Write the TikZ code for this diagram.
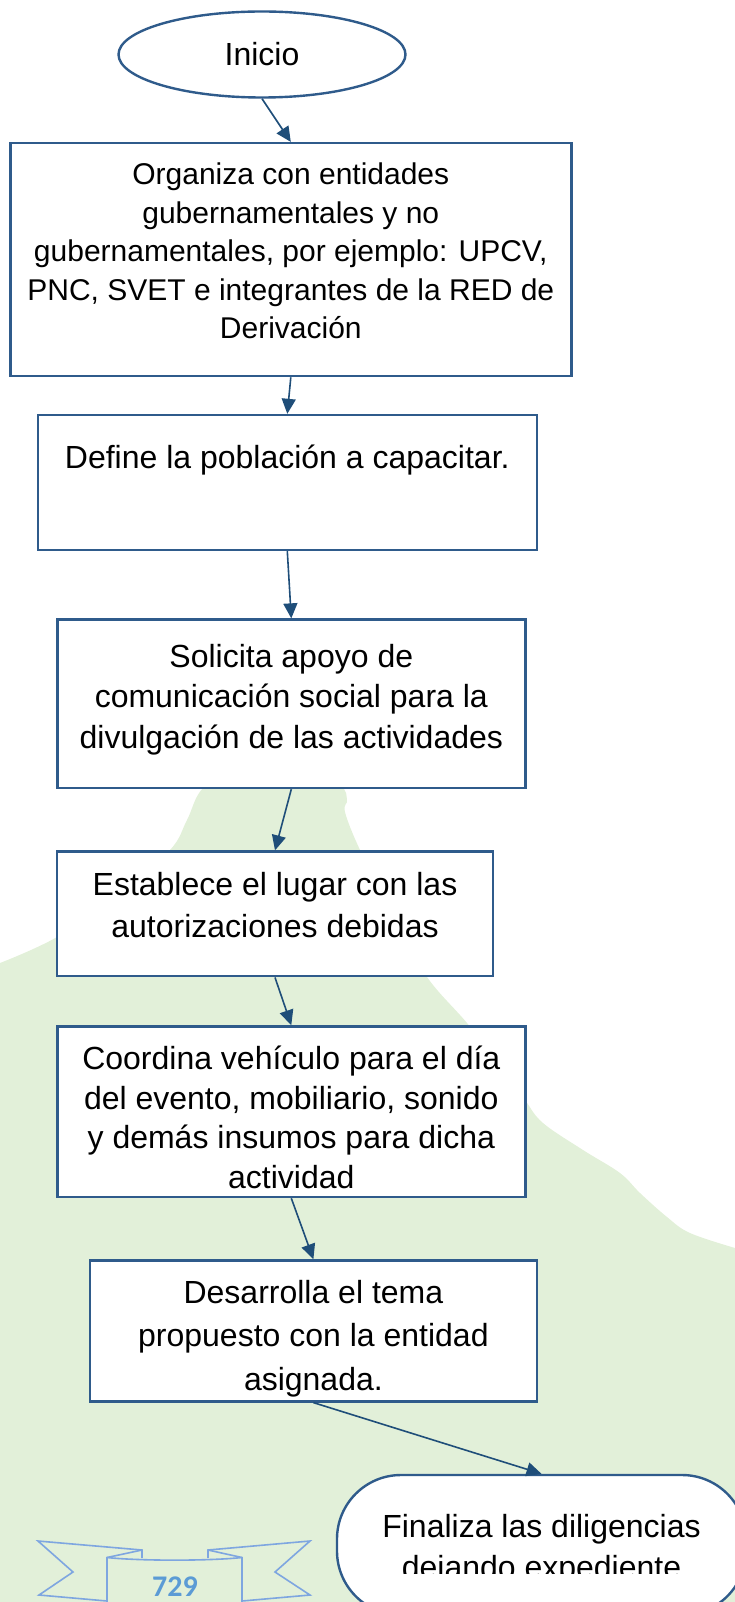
\documentclass[tikz,border=0pt]{standalone}
\usepackage{fontspec}
\setmainfont{Liberation Sans}
\newfontfamily\cintafont{Carlito}
\usepackage{tikz}
\usetikzlibrary{arrows.meta,positioning,shapes.geometric}
\definecolor{cBorde}{HTML}{2F5B8B}
\definecolor{cFlecha}{HTML}{1F4E79}
\definecolor{cFondo}{HTML}{E2F0D9}
\definecolor{cCinta}{HTML}{7EA6E0}
\definecolor{cNum}{HTML}{5B9BD5}
\tikzset{
  paso/.style ={draw=cBorde, line width=2.4pt, fill=white, rectangle},
  term/.style ={draw=cBorde, line width=2.4pt, fill=white, ellipse, inner sep=0pt,
                font=\fontsize{32}{40}\selectfont},
  fin/.style  ={draw=cBorde, line width=2.4pt, fill=white, rectangle, rounded corners=64pt},
  txt/.style  ={inner sep=0pt, outer sep=0pt, align=center,
                font=\fontsize{32}{40}\selectfont, execute at begin node=\strut},
  flecha/.style={-{Triangle[length=15pt,width=14pt]}, line width=1.6pt, draw=cFlecha},
  cinta/.style={draw=cCinta, line width=1.6pt, line join=miter},
}
\begin{document}
\begin{tikzpicture}[x=1pt, y=-1pt]
        \clip (0,0) rectangle (735,1602);
        \fill[cFondo] plot[smooth, tension=0.6] coordinates {(0,963) (57,937) (120,893) (170,850)
          (187,820) (203,788) (240,765) (300,762) (340,785) (347,800) (345,812) (360,850)
          (395,920) (427,977) (467,1023) (500,1065) (525,1100) (543,1123) (583,1150)
          (620,1173) (640,1193) (667,1217) (690,1233) (735,1248)} -- (735,1602) -- (0,1602) -- cycle;
        \draw[cinta] (142,1558) -- (142,1550) -- (38,1541) -- (73,1572) -- (39,1595) -- (107,1601);
        \draw[cinta] (142,1550) -- (107,1557.5) -- (107,1605);
        \draw[cinta] (107,1557.5) .. controls (140,1561) and (209,1561) .. (242,1557.5);
        \draw[cinta] (208,1558) -- (208,1550) -- (310,1541) -- (275,1572) -- (310,1595) -- (242,1601);
        \draw[cinta] (208,1550) -- (242,1557.5) -- (242,1605);
        \node[cNum, font=\cintafont\bfseries\fontsize{30}{34}\selectfont, anchor=base] (pg) at (175,1596) {729};
        \node[term, minimum width=287pt, minimum height=86pt] (ini) at (262,54.5) {Inicio};
        \node[paso, minimum width=561pt, minimum height=233pt] (b1) at (290.8,259.6) {};
        \node[paso, minimum width=499pt, minimum height=135pt] (b2) at (287.3,482.5) {};
        \node[paso, minimum width=468pt, minimum height=168.5pt] (b3) at (291.3,703.8) {};
        \node[paso, minimum width=435.5pt, minimum height=124.7pt] (b4) at (275,913.9) {};
        \node[paso, minimum width=468pt, minimum height=170.7pt] (b5) at (291.3,1111.7) {};
        \node[paso, minimum width=446.7pt, minimum height=141pt] (b6) at (313.4,1330.9) {};
        \node[fin, minimum width=409pt, minimum height=140pt] (fn) at (541.5,1545) {};
        \node[txt, font=\fontsize{30}{38.5}\selectfont, below=21pt of b1.north] (t1)
          {Organiza con entidades\\gubernamentales y no\\gubernamentales, por ejemplo: UPCV,\\PNC, SVET e integrantes de la RED de\\Derivación};
        \node[txt, below=27pt of b2.north] (t2) {Define la población a capacitar.};
        \node[txt, font=\fontsize{32}{40.5}\selectfont, below=25.5pt of b3.north] (t3)
          {Solicita apoyo de\\comunicación social para la\\divulgación de las actividades};
        \node[txt, font=\fontsize{32}{42}\selectfont, below=21.5pt of b4.north] (t4)
          {Establece el lugar con las\\autorizaciones debidas};
        \node[txt, font=\fontsize{32}{39.5}\selectfont, below=21pt of b5.north] (t5)
          {Coordina vehículo para el día\\del evento, mobiliario, sonido\\y demás insumos para dicha\\actividad};
        \node[txt, font=\fontsize{32}{43.5}\selectfont, below=21pt of b6.north] (t6)
          {Desarrolla el tema\\propuesto con la entidad\\asignada.};
        \begin{scope}
          \clip (fn.north west) rectangle ([yshift=-100pt]fn.north east);
          \node[txt, font=\fontsize{32}{41}\selectfont, below=40pt of fn.north] (t7)
            {Finaliza las diligencias\\dejando expediente};
        \end{scope}
        \draw[flecha] (ini.south) -- (b1.north);
        \draw[flecha] (b1.south) -- (b2.north);
        \draw[flecha] (b2.south) -- (b3.north);
        \draw[flecha] (b3.south) -- (b4.north);
        \draw[flecha] (b4.south) -- (b5.north);
        \draw[flecha] (b5.south) -- (b6.north);
        \draw[flecha] (b6.south) -- (fn.north);
\end{tikzpicture}
\end{document}
